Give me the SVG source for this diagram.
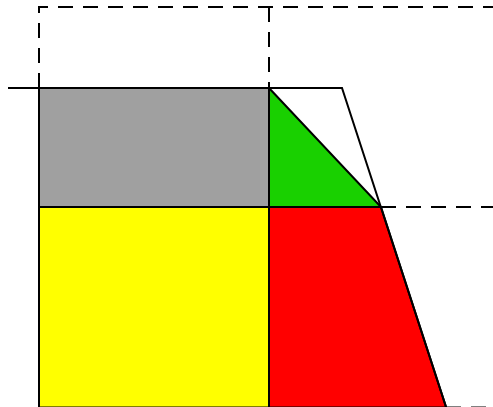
<svg xmlns="http://www.w3.org/2000/svg" width="493" height="407" viewBox="0 0 493 407">
<style>
.s{stroke:#000;stroke-width:2;fill:none}
.d{stroke:#000;stroke-width:2;fill:none;stroke-dasharray:15 10}
.f{stroke:#000;stroke-width:2;stroke-linejoin:miter}
</style>
<rect width="493" height="407" fill="#fff"/>
<g id="gray"><rect class="f" x="39" y="88" width="230" height="119" fill="#a0a0a0"/></g>
<g id="yellow"><rect class="f" x="39" y="207" width="230" height="200.5" fill="#ffff00"/></g>
<g id="green"><polygon class="f" points="269,88 381,207 269,207" fill="#19d000"/></g>
<g id="red"><polygon class="f" points="269,207 381,207 446.2,407.5 269,407.5" fill="#ff0000"/></g>
<g id="connectors">
<path class="d" d="M39,88 V7 H493"/>
<path class="d" d="M269,7 V88"/>
<path class="d" d="M381,207 H493"/>
<path class="d" d="M446,407.5 H493"/>
<path class="s" d="M8,88 H342 L446.2,407.5"/>
</g>
</svg>
